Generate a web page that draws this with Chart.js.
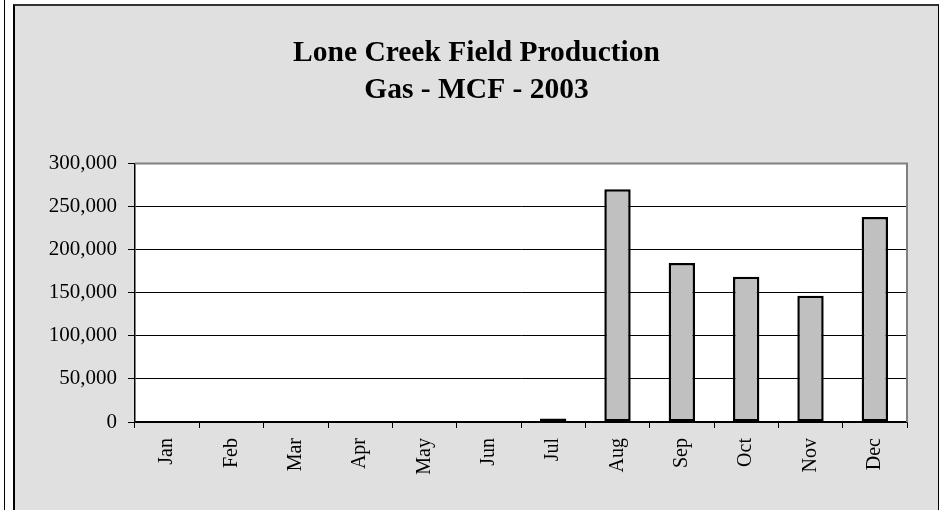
<!DOCTYPE html>
<html>
<head>
<meta charset="utf-8">
<script src="https://cdn.jsdelivr.net/npm/chart.js@4/dist/chart.umd.min.js"></script>
<style>
    body { margin: 0; width: 947px; height: 510px; overflow: hidden; background: #fff; }
    #leftRule { position: absolute; left: 4px; top: 0; width: 1px; height: 510px; background: #000; }
    #frame {
        position: absolute; left: 13px; top: 4px; width: 926px; height: 506px;
        box-sizing: border-box; background: #e0e0e0;
        border-top: 2px solid #333; border-left: 2px solid #000; border-right: 1px solid #000;
    }
    #chart { display: block; }
</style>
</head>
<body>
<div id="leftRule"></div>
<div id="frame">
    <canvas id="chart" width="923" height="504"></canvas>
</div>
<script>
// Datos de producción de gas (MCF) por mes, 2003
const months = ['Jan', 'Feb', 'Mar', 'Apr', 'May', 'Jun', 'Jul', 'Aug', 'Sep', 'Oct', 'Nov', 'Dec'];
const gasMcf = [0, 0, 0, 0, 0, 0, 4000, 270000, 184500, 168500, 146500, 238000];
const yTicks = [0, 50000, 100000, 150000, 200000, 250000, 300000];
const titleLines = ['Lone Creek Field Production', 'Gas - MCF - 2003'];

const serif = 'Liberation Serif';

// Fondo blanco del área de trazado y marco gris arriba/derecha
const plotFrame = {
    id: 'plotFrame',
    beforeDraw(chart) {
        const { ctx, chartArea: a } = chart;
        ctx.save();
        ctx.fillStyle = '#fff';
        ctx.fillRect(a.left, a.top, a.right - a.left, a.bottom - a.top);
        ctx.restore();
    },
    afterDraw(chart) {
        const { ctx, chartArea: a } = chart;
        ctx.save();
        ctx.strokeStyle = '#808080';
        ctx.lineWidth = 2;
        ctx.beginPath();
        ctx.moveTo(a.left, a.top);
        ctx.lineTo(a.right, a.top);
        ctx.lineTo(a.right, a.bottom);
        ctx.stroke();
        ctx.restore();
    }
};

const ctx = document.getElementById('chart').getContext('2d');
const chart = new Chart(ctx, {
    type: 'bar',
    data: {
        labels: months,
        datasets: [{
            data: gasMcf,
            backgroundColor: '#c0c0c0',
            borderColor: '#000',
            borderWidth: 2.5,
            borderSkipped: false,
            barPercentage: 0.41,
            categoryPercentage: 1
        }]
    },
    options: {
        responsive: false,
        animation: false,
        layout: { padding: { left: 31, right: 31, top: 0, bottom: 0 } },
        plugins: {
            legend: { display: false },
            tooltip: { enabled: false },
            title: {
                display: true,
                text: titleLines,
                color: '#000',
                font: { family: serif, size: 29.5, weight: 'bold', lineHeight: 1.28 },
                padding: { top: 28, bottom: 54 }
            }
        },
        scales: {
            x: {
                offset: true,
                grid: {
                    offset: true,
                    drawOnChartArea: false,
                    drawTicks: true,
                    tickLength: 6,
                    color: '#000'
                },
                border: { color: '#000', width: 1.5 },
                ticks: {
                    color: '#000',
                    font: { family: serif, size: 20 },
                    minRotation: 90,
                    maxRotation: 90,
                    padding: 10
                },
                afterFit(scale) { scale.height = 88; }
            },
            y: {
                min: 0,
                max: 300000,
                afterBuildTicks(scale) {
                    scale.ticks = yTicks.map(v => ({ value: v }));
                },
                grid: {
                    color: c => c.tick && c.tick.value === 300000 ? '#808080' : '#000',
                    lineWidth: 1,
                    tickLength: 7,
                    tickColor: '#000'
                },
                border: { color: '#000', width: 1.5 },
                ticks: {
                    color: '#000',
                    font: { family: serif, size: 21 },
                    padding: 11,
                    callback: v => v.toLocaleString('en-US')
                },
                afterFit(scale) { scale.width = 89; }
            }
        }
    },
    plugins: [plotFrame]
});
</script>
</body>
</html>
